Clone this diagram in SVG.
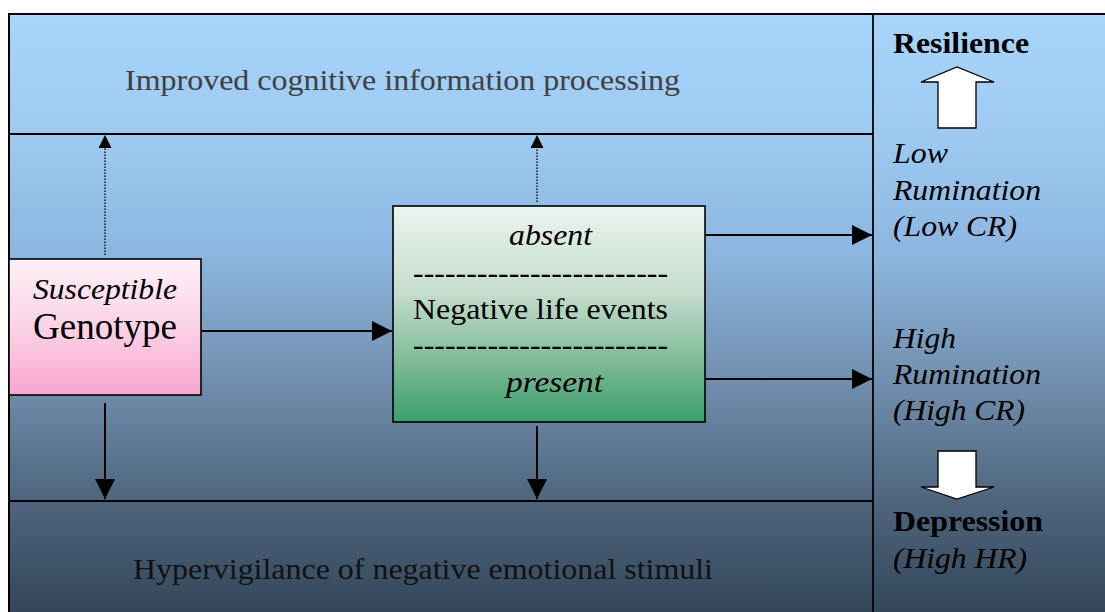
<svg xmlns="http://www.w3.org/2000/svg" width="1105" height="612" viewBox="0 0 1105 612">
  <defs>
    <linearGradient id="bg" x1="0" y1="14" x2="0" y2="612" gradientUnits="userSpaceOnUse">
      <stop offset="0" stop-color="#a8d5fc"/>
      <stop offset="0.2" stop-color="#9ecaf2"/>
      <stop offset="0.4" stop-color="#8cb6df"/>
      <stop offset="0.6" stop-color="#7392b1"/>
      <stop offset="0.81" stop-color="#4f667e"/>
      <stop offset="1" stop-color="#34475a"/>
    </linearGradient>
    <linearGradient id="pink" x1="0" y1="0" x2="0" y2="1">
      <stop offset="0" stop-color="#fdf1f6"/>
      <stop offset="0.5" stop-color="#fbd3e6"/>
      <stop offset="1" stop-color="#f7a5ce"/>
    </linearGradient>
    <linearGradient id="green" x1="0" y1="0" x2="0" y2="1">
      <stop offset="0" stop-color="#ebf4ef"/>
      <stop offset="0.4" stop-color="#c5ddcd"/>
      <stop offset="0.75" stop-color="#78b792"/>
      <stop offset="1" stop-color="#3a9e6d"/>
    </linearGradient>
    <marker id="ah" viewBox="0 0 20 20" markerWidth="20" markerHeight="20" refX="20" refY="10" orient="auto" markerUnits="userSpaceOnUse">
      <path d="M0,0 L20,10 L0,20 Z" fill="#000"/>
    </marker>
  </defs>
  <style>
    .lbl { font-size: 30px; }
    .it { font-style: italic; }
    .b { font-weight: bold; }
    .frame { stroke: #000; stroke-width: 2; fill: none; }
    .div { stroke: #000; stroke-width: 1.8; }
    .conn { stroke: #000; stroke-width: 2; fill: none; }
    .dot { stroke: #1a1a1a; stroke-width: 1.5; stroke-dasharray: 1.5 1.5; fill: none; }
    .box { stroke: #000; stroke-width: 1.6; }
    .blk { fill: #fff; stroke: #000; stroke-width: 1.3; }
  </style>

  <rect x="0" y="0" width="1105" height="612" fill="#fff"/>
  <rect x="9" y="14" width="1096" height="598" fill="url(#bg)"/>

  <g id="frame">
    <path class="frame" d="M9,612 V14 H1105"/>
    <line class="div" x1="873" y1="14" x2="873" y2="612"/>
    <line class="div" x1="9" y1="134" x2="873" y2="134"/>
    <line class="div" x1="9" y1="501" x2="873" y2="501"/>
  </g>

  <g font-family="Liberation Serif, serif" fill="#000">
  <g id="cognitive">
    <text class="lbl" x="125" y="90" fill="#404040" textLength="555" lengthAdjust="spacingAndGlyphs">Improved cognitive information processing</text>
  </g>

  <g id="hypervigilance">
    <text class="lbl" x="133" y="579" fill="#111" textLength="580" lengthAdjust="spacingAndGlyphs">Hypervigilance of negative emotional stimuli</text>
  </g>

  <g id="genotype">
    <rect class="box" x="9" y="259" width="192" height="136" fill="url(#pink)"/>
    <text class="lbl it" x="33" y="299" textLength="144" lengthAdjust="spacingAndGlyphs">Susceptible</text>
    <text x="33" y="339" font-size="38" textLength="144" lengthAdjust="spacingAndGlyphs">Genotype</text>
  </g>

  <g id="life-events">
    <rect class="box" x="393" y="206" width="312" height="216" fill="url(#green)"/>
    <text class="lbl it" x="509" y="245" textLength="83" lengthAdjust="spacingAndGlyphs">absent</text>
    <text class="lbl" x="413" y="283" textLength="255" lengthAdjust="spacingAndGlyphs">------------------------</text>
    <text class="lbl" x="413" y="319" textLength="255" lengthAdjust="spacingAndGlyphs">Negative life events</text>
    <text class="lbl" x="413" y="355" textLength="255" lengthAdjust="spacingAndGlyphs">------------------------</text>
    <text class="lbl it" x="506" y="392" textLength="97" lengthAdjust="spacingAndGlyphs">present</text>
  </g>

  <g id="outcomes">
    <text class="lbl b" x="893" y="53" textLength="136" lengthAdjust="spacingAndGlyphs">Resilience</text>
    <path class="blk" d="M938,128 V82 H921 L957,67 L994,82 H976 V128 Z"/>
    <text class="lbl it" x="893" y="163" textLength="55" lengthAdjust="spacingAndGlyphs">Low</text>
    <text class="lbl it" x="893" y="200" textLength="148" lengthAdjust="spacingAndGlyphs">Rumination</text>
    <text class="lbl it" x="893" y="236" textLength="124" lengthAdjust="spacingAndGlyphs">(Low CR)</text>
    <text class="lbl it" x="893" y="348" textLength="63" lengthAdjust="spacingAndGlyphs">High</text>
    <text class="lbl it" x="893" y="384" textLength="148" lengthAdjust="spacingAndGlyphs">Rumination</text>
    <text class="lbl it" x="893" y="420" textLength="132" lengthAdjust="spacingAndGlyphs">(High CR)</text>
    <path class="blk" d="M938,451 H976 V487 H994 L957,499 L921,487 H938 Z"/>
    <text class="lbl b" x="893" y="531" textLength="150" lengthAdjust="spacingAndGlyphs">Depression</text>
    <text class="lbl it" x="893" y="568" textLength="134" lengthAdjust="spacingAndGlyphs">(High HR)</text>
  </g>
  </g>

  <g id="connectors">
    <line class="dot" x1="105" y1="255" x2="105" y2="148"/>
    <path d="M98.5,148 L105,135 L111.5,148 Z" fill="#000"/>
    <line class="dot" x1="537" y1="202" x2="537" y2="148"/>
    <path d="M530.5,148 L537,135 L543.5,148 Z" fill="#000"/>
    <line class="conn" x1="201" y1="331" x2="392" y2="331" marker-end="url(#ah)"/>
    <line class="conn" x1="105" y1="403" x2="105" y2="499" marker-end="url(#ah)"/>
    <line class="conn" x1="537" y1="426" x2="537" y2="499" marker-end="url(#ah)"/>
    <line class="conn" x1="705" y1="235" x2="872" y2="235" marker-end="url(#ah)"/>
    <line class="conn" x1="705" y1="379" x2="872" y2="379" marker-end="url(#ah)"/>
  </g>
</svg>
